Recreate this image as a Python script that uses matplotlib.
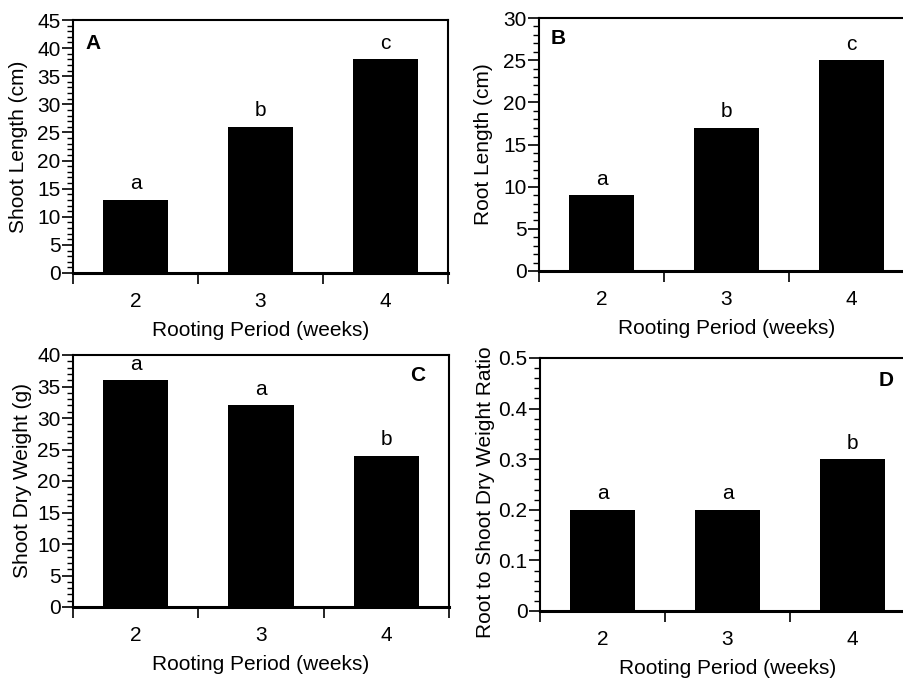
import numpy as np
import matplotlib
matplotlib.use("Agg")
import matplotlib.pyplot as plt
from matplotlib.ticker import MultipleLocator

plt.rcParams['font.family'] = ['Liberation Sans', 'DejaVu Sans']
plt.rcParams['font.size'] = 15

# data
weeks = [2, 3, 4]
shoot_len = [13, 26, 38]
root_len = [9, 17, 25]
shoot_dw = [36, 32, 24]
ratio = [0.2, 0.2, 0.3]

letters_a = ['a', 'b', 'c']
letters_b = ['a', 'b', 'c']
letters_c = ['a', 'a', 'b']
letters_d = ['a', 'a', 'b']

W, H = 904, 679
fig = plt.figure(figsize=(W / 100, H / 100), dpi=100)


def px_axes(x0, y0, x1, y1):
    # pixel box (top-left origin) -> figure fraction
    return fig.add_axes([x0 / W, 1 - y1 / H, (x1 - x0) / W, (y1 - y0) / H])


def panel(ax, vals, letters, ymax, major, minor, ylabel, tag, tag_xy, ylab_xy):
    ax.bar(weeks, vals, width=0.52, color='black', zorder=2)
    ax.set_xlim(1.5, 4.5)
    ax.set_ylim(0, ymax)
    ax.yaxis.set_major_locator(MultipleLocator(major))
    ax.yaxis.set_minor_locator(MultipleLocator(minor))
    ax.tick_params(axis='y', which='major', direction='out', length=8, width=1.2, pad=1)
    ax.tick_params(axis='y', which='minor', direction='out', length=4, width=1)
    # category boundaries as ticks, labels at bar centres
    ax.set_xticks([1.5, 2.5, 3.5, 4.5])
    ax.set_xticklabels([])
    ax.set_xticks(weeks, minor=True)
    ax.set_xticklabels([str(w) for w in weeks], minor=True)
    ax.tick_params(axis='x', which='major', direction='out', length=8, width=1.2)
    ax.tick_params(axis='x', which='minor', length=0, pad=14)
    for s in ['top', 'right', 'left']:
        ax.spines[s].set_linewidth(1.5)
    ax.spines['bottom'].set_linewidth(2.2)
    ax.spines['bottom'].set_zorder(3)
    ax.set_xlabel('Rooting Period (weeks)', labelpad=7)
    ax.set_ylabel(ylabel)
    ax.yaxis.set_label_coords(*ylab_xy)
    if ymax < 1:
        ax.yaxis.set_major_formatter(plt.FuncFormatter(lambda v, p: '0' if v == 0 else '%.1f' % v))
    for xv, yv, t in zip(weeks, vals, letters):
        ax.annotate(t, (xv, yv), xytext=(0, 11.5), textcoords='offset points',
                    ha='center', va='center')
    ax.text(tag_xy[0], tag_xy[1], tag, transform=ax.transAxes, fontweight='bold',
            ha='center', va='center')


axA = px_axes(73, 20, 448, 273)
panel(axA, shoot_len, letters_a, 45, 5, 1, 'Shoot Length (cm)', 'A', (0.053, 0.909), (-0.12, 0.5))

axB = px_axes(539, 18, 914, 271)
panel(axB, root_len, letters_b, 30, 5, 1, 'Root Length (cm)', 'B', (0.05, 0.92), (-0.123, 0.5))

axC = px_axes(73, 355, 449, 607)
panel(axC, shoot_dw, letters_c, 40, 5, 1, 'Shoot Dry Weight (g)', 'C', (0.918, 0.92), (-0.11, 0.5))

axD = px_axes(540, 358, 915, 611)
panel(axD, ratio, letters_d, 0.5, 0.1, 0.02, 'Root to Shoot Dry Weight Ratio', 'D', (0.923, 0.913), (-0.12, 0.47))

fig.savefig('out.png', dpi=100)
